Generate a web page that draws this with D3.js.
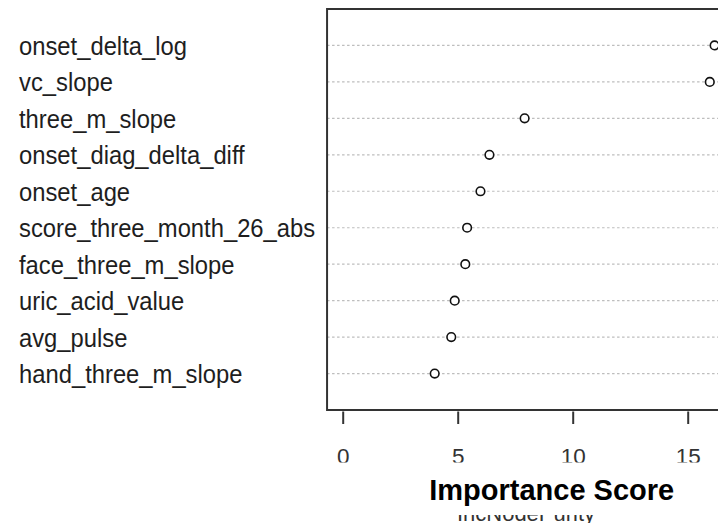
<!DOCTYPE html>
<html>
<head>
<meta charset="utf-8">
<script src="https://cdn.jsdelivr.net/npm/d3@7"></script>
<style>
  body { margin: 0; background: #fff; }
  svg { display: block; font-family: "Liberation Sans", Arial, sans-serif; }
</style>
</head>
<body>
<div id="chart"></div>
<script>
// variable importance, top row first
const features = [
  'onset_delta_log', 'vc_slope', 'three_m_slope', 'onset_diag_delta_diff',
  'onset_age', 'score_three_month_26_abs', 'face_three_m_slope',
  'uric_acid_value', 'avg_pulse', 'hand_three_m_slope'
];
const scores = [16.17, 15.96, 7.91, 6.38, 5.99, 5.41, 5.33, 4.87, 4.72, 4.0];
const tickValues = [0, 5, 10, 15];
const xLabel = 'Importance Score';
const hiddenLabel = 'IncNodePurity';

const width = 718, height = 523;
const n = features.length;

const svg = d3.select('#chart').append('svg')
  .attr('width', width)
  .attr('height', height);

const x = d3.scaleLinear().domain([0, 15]).range([342.7, 687.7]);
// dotchart style: row 1 at the bottom, one unit of padding each side
const y = d3.scaleLinear().domain([0, n + 1]).range([410, 9]);
const rowY = (i) => y(n - i);

const boxLeft = x(-0.68), boxRight = x(17.5);
const boxTop = y(n + 1), boxBottom = y(0);

// dotted guide lines
svg.append('g')
  .selectAll('line')
  .data(features)
  .enter().append('line')
  .attr('x1', boxLeft)
  .attr('x2', boxRight)
  .attr('y1', (d, i) => rowY(i))
  .attr('y2', (d, i) => rowY(i))
  .attr('stroke', '#bdbdbd')
  .attr('stroke-width', 1.2)
  .attr('stroke-dasharray', '2.5,2.5');

// points
svg.append('g')
  .selectAll('circle')
  .data(scores)
  .enter().append('circle')
  .attr('cx', (d) => x(d))
  .attr('cy', (d, i) => rowY(i))
  .attr('r', 4.3)
  .attr('fill', '#fff')
  .attr('stroke', '#111')
  .attr('stroke-width', 1.6);

// box
svg.append('rect')
  .attr('x', boxLeft)
  .attr('y', boxTop)
  .attr('width', boxRight - boxLeft)
  .attr('height', boxBottom - boxTop)
  .attr('fill', 'none')
  .attr('stroke', '#333')
  .attr('stroke-width', 2);

// row labels (source image is a little stretched vertically)
svg.append('g')
  .selectAll('text')
  .data(features)
  .enter().append('text')
  .attr('transform', (d, i) => `translate(19,${rowY(i) + 9.5}) scale(1,1.1)`)
  .attr('font-size', 23.8)
  .attr('fill', '#1e1e1e')
  .text((d) => d);

// x axis
const axis = d3.axisBottom(x)
  .tickValues(tickValues)
  .tickSize(12.5)
  .tickPadding(24)
  .tickFormat(d3.format('d'));

const gx = svg.append('g')
  .attr('transform', `translate(0,${boxBottom + 1.5})`)
  .call(axis);
gx.select('.domain').remove();
gx.selectAll('.tick line').attr('stroke', '#333').attr('stroke-width', 2);
gx.selectAll('.tick text')
  .attr('font-size', 22.5)
  .attr('fill', '#333')
  .attr('font-family', '"Liberation Sans", Arial, sans-serif');

// original axis title peeking out from below the overlay
svg.append('text')
  .attr('x', 526)
  .attr('y', 521)
  .attr('text-anchor', 'middle')
  .attr('font-size', 22)
  .attr('fill', '#333')
  .text(hiddenLabel);

// white patch with the replacement title
svg.append('rect')
  .attr('x', 330)
  .attr('y', 462.5)
  .attr('width', width - 330)
  .attr('height', 52.5)
  .attr('fill', '#fff');

svg.append('text')
  .attr('x', 551.7)
  .attr('y', 499.5)
  .attr('text-anchor', 'middle')
  .attr('font-size', 29)
  .attr('font-weight', 'bold')
  .attr('fill', '#000')
  .text(xLabel);
</script>
</body>
</html>
